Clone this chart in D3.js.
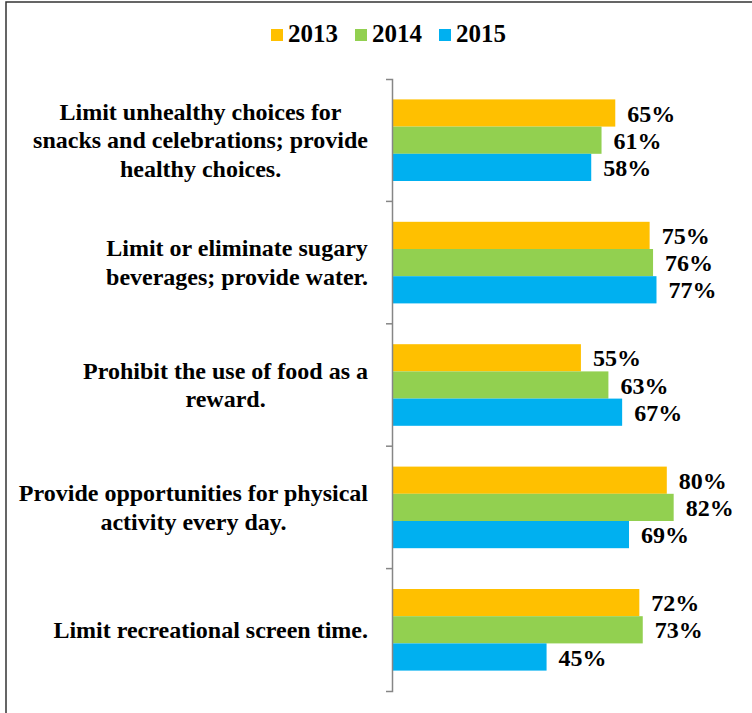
<!DOCTYPE html>
<html>
<head>
<meta charset="utf-8">
<script src="https://cdn.jsdelivr.net/npm/d3@7"></script>
<style>
  body { margin: 0; background: #fff; }
  text { font-family: "Liberation Serif", "Times New Roman", serif; font-weight: bold; fill: #000; }
</style>
</head>
<body>
<div id="chart"><svg></svg></div>
<script>
// chart data
var categories = [
  "Limit unhealthy choices for|snacks and celebrations; provide|healthy choices.",
  "Limit or eliminate sugary|beverages; provide water.",
  "Prohibit the use of food as a|reward.",
  "Provide opportunities for physical|activity every day.",
  "Limit recreational screen time."
];
var years = ["2013", "2014", "2015"];
var values2013 = [0.65, 0.75, 0.55, 0.80, 0.72];
var values2014 = [0.61, 0.76, 0.63, 0.82, 0.73];
var values2015 = [0.58, 0.77, 0.67, 0.69, 0.45];
var colors = ["#FFC000", "#92D050", "#00B0F0"];

var data = categories.map(function(c, i) {
  return { cat: c, vals: [values2013[i], values2014[i], values2015[i]] };
});

var width = 752, height = 713;
var axisX = 392;

var svg = d3.select("#chart").select("svg")
    .attr("width", width)
    .attr("height", height);

// frame
svg.append("rect")
    .attr("x", 6).attr("y", 2)
    .attr("width", 780).attr("height", 740)
    .attr("fill", "none")
    .attr("stroke", "#333")
    .attr("stroke-width", 1.5);

var y = d3.scaleBand().domain(categories).range([79, 691])
    .paddingInner(1 / 3).paddingOuter(1 / 6);
var y1 = d3.scaleBand().domain(years).range([0, y.bandwidth()]);
var x = d3.scaleLinear().domain([0, 1]).range([0, 343.5]);

var g = svg.append("g").attr("transform", "translate(" + axisX + ",0)");

// bars
var groups = g.selectAll(".grp")
    .data(data)
  .enter().append("g")
    .attr("class", "grp")
    .attr("transform", function(d) { return "translate(0," + y(d.cat) + ")"; });

groups.selectAll("rect")
    .data(function(d) { return d.vals.map(function(v, j) { return { year: years[j], v: v, j: j }; }); })
  .enter().append("rect")
    .attr("x", 0)
    .attr("y", function(d) { return y1(d.year); })
    .attr("width", function(d) { return x(d.v); })
    .attr("height", y1.bandwidth())
    .attr("fill", function(d) { return colors[d.j]; });

groups.selectAll(".val")
    .data(function(d) { return d.vals.map(function(v, j) { return { year: years[j], v: v }; }); })
  .enter().append("text")
    .attr("class", "val")
    .attr("x", function(d) { return x(d.v) + 12; })
    .attr("y", function(d) { return y1(d.year) + y1.bandwidth() / 2; })
    .attr("dy", "0.36em")
    .style("font-size", "24px")
    .text(function(d) { return d3.format(".0%")(d.v); });

// axis (ticks sit on the category boundaries)
g.append("g")
    .call(d3.axisLeft(y).tickSize(0).tickSizeOuter(6).tickFormat(""))
    .call(function(a) { a.select(".domain").attr("stroke", "#868686").attr("stroke-width", 1.5); });

var step = y.step();
for (var i = 1; i < categories.length; i++) {
  var by = y.range()[0] + i * step;
  g.append("line")
      .attr("x1", -6).attr("x2", 0)
      .attr("y1", by).attr("y2", by)
      .attr("stroke", "#868686").attr("stroke-width", 1.5);
}

// category labels: lines centred in a block whose right edge is at 368
var lineH = 28.5;
svg.selectAll(".cat")
    .data(categories)
  .enter().append("text")
    .attr("class", "cat")
    .attr("text-anchor", "middle")
    .style("font-size", "24px")
    .each(function(c) {
      var lines = c.split("|");
      var cy = y(c) + y.bandwidth() / 2;
      var t = d3.select(this);
      var spans = lines.map(function(l, k) {
        return t.append("tspan")
          .attr("y", cy + 8 + (k - (lines.length - 1) / 2) * lineH)
          .text(l);
      });
      var maxW = d3.max(spans, function(s) { return s.node().getComputedTextLength(); });
      spans.forEach(function(s) { s.attr("x", 368 - maxW / 2); });
    });

// legend
var legend = svg.append("g");
years.forEach(function(yr, j) {
  var lx = 271 + j * 84;
  legend.append("rect")
      .attr("x", lx).attr("y", 29)
      .attr("width", 12).attr("height", 12)
      .attr("fill", colors[j]);
  legend.append("text")
      .attr("x", lx + 17).attr("y", 41.5)
      .style("font-size", "25px")
      .text(yr);
});
</script>
</body>
</html>
